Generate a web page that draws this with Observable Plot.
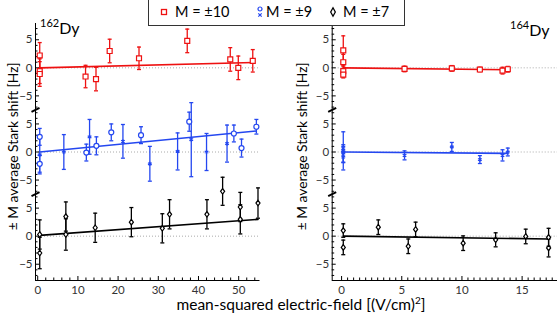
<!DOCTYPE html>
<html><head><meta charset="utf-8">
<script src="https://cdn.jsdelivr.net/npm/d3@7"></script>
<script src="https://cdn.jsdelivr.net/npm/@observablehq/plot@0.6"></script>
<style>
body{margin:0;background:#fff;}
#wrap{position:relative;width:557px;height:316px;overflow:hidden;font-family:Lato,"Open Sans",sans-serif;color:#000;}
#wrap svg{position:absolute;top:0;}
#legend{position:absolute;left:148px;top:-1px;width:255px;height:25px;border:1px solid #333;background:#fff;}
#legend .it{position:absolute;top:3px;font-size:14.5px;line-height:18px;white-space:pre;}
#legend svg{position:absolute;}
.iso{position:absolute;font-size:16px;line-height:16px;white-space:nowrap;}
.iso span{font-size:11px;position:relative;top:-7px;}
#xlabel{position:absolute;left:101px;width:400px;text-align:center;top:296px;font-size:15.5px;line-height:16px;white-space:nowrap;}
</style></head><body><div id="wrap"></div>
<script>
// ---------- data ----------
const seriesNames = ["M = ±10", "M = ±9", "M = ±7"];
const seriesColors = ["#ee1111", "#2447f0", "#000000"];
const bandOffsets = [30, 15, 0];          // vertical band of each series on the broken axis
const yTickValues = [-5, 0, 5, 10, 15, 20, 25, 30, 35];
const yTickLabels = ["−5", "0", "5", "−5", "0", "5", "−5", "0", "5"];
const breakValues = [7.5, 22.5];
const xTicks162 = [0, 10, 20, 30, 40, 50];
const xTicks164 = [0, 5, 10, 15];
const yTitle = "± M average Stark shift [Hz]";
const xTitle = "mean-squared electric-field [(V/cm)²]";

// 162Dy, M = ±10
const dy162_m10_x = [0.5, 0.5, 0.5, 11.9, 14.5, 17.9, 25.2, 37.2, 47.9, 49.9, 53.5];
const dy162_m10_y = [2.2, -0.6, -1.1, -1.55, -2.0, 3.0, 1.7, 4.8, 1.5, 0.0, 1.25];
const dy162_m10_e = [2.3, 2.2, 2.2, 2.0, 2.1, 2.1, 2.0, 2.1, 2.1, 2.1, 2.0];
// 162Dy, M = ±9 (circles)
const dy162_m9c_x = [0.5, 0.5, 12.1, 14.6, 18.3, 25.7, 37.7, 48.8, 50.7, 54.4];
const dy162_m9c_y = [2.7, -2.1, -0.1, 1.1, 3.5, 3.0, 5.4, 3.3, 0.7, 4.5];
const dy162_m9c_e = [1.5, 1.5, 1.5, 1.6, 1.5, 1.5, 1.7, 1.5, 1.6, 1.3];
// 162Dy, M = ±9 (crosses)
const dy162_m9s_x = [0.5, 6.5, 12.9, 21.2, 27.9, 34.8, 38.2, 42.0, 47.1];
const dy162_m9s_y = [-0.5, 0.0, 2.7, 1.9, -2.1, 0.1, 2.2, 0.0, 1.5];
const dy162_m9s_e = [3.4, 3.1, 3.1, 3.0, 3.1, 3.3, 6.6, 3.3, 3.3];
// 162Dy, M = ±7
const dy162_m7_x = [0.5, 0.5, 7.0, 7.0, 14.3, 23.3, 31.0, 32.8, 42.1, 46.0, 50.4, 50.4, 54.8];
const dy162_m7_y = [0.3, -3.0, 3.5, 0.3, 1.5, 2.5, 1.4, 3.9, 3.9, 8.0, 5.2, 3.0, 5.9];
const dy162_m7_e = [2.6, 2.8, 2.6, 2.8, 2.6, 2.6, 2.6, 2.6, 2.6, 2.5, 2.6, 2.6, 2.7];
// 162Dy linear fits (end points)
const dy162_fit_m10_x = [0.5, 53.7], dy162_fit_m10_y = [0.0, 0.95];
const dy162_fit_m9_x = [0.5, 54.4], dy162_fit_m9_y = [0.0, 3.75];
const dy162_fit_m7_x = [0.5, 54.8], dy162_fit_m7_y = [0.15, 3.0];

// 164Dy, M = ±10
const dy164_m10_x = [0.14, 0.14, 0.14, 0.14, 5.23, 9.16, 11.49, 13.37, 13.81];
const dy164_m10_y = [3.1, 1.0, -0.6, -1.2, -0.2, -0.1, -0.3, -0.5, -0.25];
const dy164_m10_e = [2.6, 1.4, 0.9, 0.6, 0.5, 0.5, 0.4, 0.6, 0.5];
// 164Dy, M = ±9 (crosses)
const dy164_m9s_x = [0.14, 0.14, 0.14, 0.14, 5.23, 9.16, 11.49, 13.37, 13.81];
const dy164_m9s_y = [0.2, 0.6, -0.4, -0.9, -0.6, 0.9, -1.35, -0.6, 0.0];
const dy164_m9s_e = [3.4, 0.7, 1.4, 1.0, 0.8, 0.8, 0.7, 1.0, 0.7];
// 164Dy, M = ±7
const dy164_m7_x = [0.14, 0.14, 3.05, 5.54, 6.15, 10.1, 12.8, 15.3, 17.2, 17.2];
const dy164_m7_y = [1.0, -2.0, 1.6, -1.8, 1.2, -1.25, -0.65, -0.05, -0.2, -2.1];
const dy164_m7_e = [1.2, 1.3, 1.3, 1.3, 1.3, 1.3, 1.25, 1.3, 1.6, 1.6];
// 164Dy linear fits (end points)
const dy164_fit_m10_x = [0.14, 13.81], dy164_fit_m10_y = [0.0, -0.35];
const dy164_fit_m9_x = [0.14, 13.81], dy164_fit_m9_y = [0.0, -0.25];
const dy164_fit_m7_x = [0.14, 17.2], dy164_fit_m7_y = [0.0, -0.5];

// ---------- helpers ----------
const H = 316, MT = 23, MB = 36;
const Y_DOMAIN = [-7.9, 37.9];
const capSym = {draw(ctx, size) { const r = Math.sqrt(size / Math.PI); ctx.moveTo(-r, 0); ctx.lineTo(r, 0); }};
const breakSym = {draw(ctx, size) { const r = Math.sqrt(size / Math.PI); ctx.moveTo(-r, r * 0.5); ctx.lineTo(r, -r * 0.5); }};
const diamondSym = {draw(ctx, size) { const r = Math.sqrt(size / Math.PI); ctx.moveTo(0, -r * 1.15); ctx.lineTo(r * 0.85, 0); ctx.lineTo(0, r * 1.15); ctx.lineTo(-r * 0.85, 0); ctx.closePath(); }};

function rows(xs, ys, es, s) {
  return xs.map((x, i) => ({x, y: ys[i] + bandOffsets[s], lo: ys[i] - es[i] + bandOffsets[s], hi: ys[i] + es[i] + bandOffsets[s]}));
}
function fitRows(xs, ys, s) { return xs.map((x, i) => ({x, y: ys[i] + bandOffsets[s]})); }

function seriesMarks(data, s, symbol, r) {
  const c = seriesColors[s];
  return [
    Plot.ruleX(data, {x: "x", y1: "lo", y2: "hi", stroke: c, strokeWidth: 1.3}),
    Plot.dot(data, {x: "x", y: "lo", symbol: capSym, r: 2, stroke: c, fill: "none", strokeWidth: 1.3}),
    Plot.dot(data, {x: "x", y: "hi", symbol: capSym, r: 2, stroke: c, fill: "none", strokeWidth: 1.3}),
    Plot.dot(data, {x: "x", y: "y", symbol, r, stroke: c, fill: symbol === "asterisk" ? "none" : "white", strokeWidth: 1.2})
  ];
}

function panel({width, marginLeft, marginRight, xDomain, xTicks, xMinorStep, groups, fits, titleDx}) {
  const frameW = width - marginLeft - marginRight;
  const frameH = H - MT - MB;
  const yMinor = d3.range(-7, 38, 1).filter(v => !yTickValues.includes(v));
  const xMinor = d3.range(0, xDomain[1], xMinorStep).filter(v => !xTicks.includes(v));
  const marks = [
    Plot.ruleY(bandOffsets, {stroke: "#aaa", strokeDasharray: "1,2", strokeWidth: 1}),
    Plot.ruleX([xDomain[0]], {stroke: "#000", strokeWidth: 1}),
    Plot.ruleY([Y_DOMAIN[0]], {stroke: "#000", strokeWidth: 1}),
    Plot.tickY(yTickValues, {y: d => d, insetRight: frameW - 4, stroke: "#000"}),
    Plot.tickY(yMinor, {y: d => d, insetRight: frameW - 2.5, stroke: "#000"}),
    Plot.tickX(xTicks, {x: d => d, insetTop: frameH - 4, stroke: "#000"}),
    Plot.tickX(xMinor, {x: d => d, insetTop: frameH - 2.5, stroke: "#000"}),
    Plot.axisY(yTickValues, {tickSize: 0, tickPadding: 3, fontSize: 11.5, fill: "#333", label: null,
      tickFormat: d => yTickLabels[yTickValues.indexOf(d)]}),
    Plot.axisX(xTicks, {tickSize: 0, tickPadding: 5, fontSize: 11.5, fill: "#333", label: null}),
    Plot.dot(breakValues, {x: xDomain[0], y: d => d, symbol: breakSym, r: 4, stroke: "#000", strokeWidth: 2, fill: "none"}),
    Plot.text([yTitle], {frameAnchor: "left", textAnchor: "middle", rotate: -90, dx: titleDx, dy: -5.5, fontSize: 13.8, fill: "#000"})
  ];
  for (const f of fits) marks.push(Plot.line(f.data, {x: "x", y: "y", stroke: seriesColors[f.s], strokeWidth: 1.6}));
  for (const g of groups) marks.push(...seriesMarks(g.data, g.s, g.symbol, g.r));
  return Plot.plot({
    width, height: H, marginTop: MT, marginBottom: MB, marginLeft, marginRight,
    style: {fontFamily: "Lato, 'Open Sans', sans-serif", background: "transparent", overflow: "visible"},
    x: {domain: xDomain, label: null}, y: {domain: Y_DOMAIN, label: null},
    marks
  });
}

const left = panel({
  width: 270, marginLeft: 35, marginRight: 10.5, xDomain: [-0.55, 55.3], xTicks: xTicks162, xMinorStep: 2, titleDx: -22,
  fits: [
    {s: 0, data: fitRows(dy162_fit_m10_x, dy162_fit_m10_y, 0)},
    {s: 1, data: fitRows(dy162_fit_m9_x, dy162_fit_m9_y, 1)},
    {s: 2, data: fitRows(dy162_fit_m7_x, dy162_fit_m7_y, 2)}
  ],
  groups: [
    {s: 0, symbol: "square", r: 2.8, data: rows(dy162_m10_x, dy162_m10_y, dy162_m10_e, 0)},
    {s: 1, symbol: "asterisk", r: 2, data: rows(dy162_m9s_x, dy162_m9s_y, dy162_m9s_e, 1)},
    {s: 1, symbol: "circle", r: 2.5, data: rows(dy162_m9c_x, dy162_m9c_y, dy162_m9c_e, 1)},
    {s: 2, symbol: diamondSym, r: 2.4, data: rows(dy162_m7_x, dy162_m7_y, dy162_m7_e, 2)}
  ]
});
left.style.left = "0px";

const right = panel({
  width: 277, marginLeft: 51.7, marginRight: 0, xDomain: [-0.78, 17.94], xTicks: xTicks164, xMinorStep: 0.5, titleDx: -29.7,
  fits: [
    {s: 0, data: fitRows(dy164_fit_m10_x, dy164_fit_m10_y, 0)},
    {s: 1, data: fitRows(dy164_fit_m9_x, dy164_fit_m9_y, 1)},
    {s: 2, data: fitRows(dy164_fit_m7_x, dy164_fit_m7_y, 2)}
  ],
  groups: [
    {s: 0, symbol: "square", r: 2.8, data: rows(dy164_m10_x, dy164_m10_y, dy164_m10_e, 0)},
    {s: 1, symbol: "asterisk", r: 2, data: rows(dy164_m9s_x, dy164_m9s_y, dy164_m9s_e, 1)},
    {s: 2, symbol: diamondSym, r: 2.4, data: rows(dy164_m7_x, dy164_m7_y, dy164_m7_e, 2)}
  ]
});
right.style.left = "280px";

const wrap = document.getElementById("wrap");
wrap.appendChild(left);
wrap.appendChild(right);

// isotope labels
const iso1 = document.createElement("div");
iso1.className = "iso"; iso1.style.left = "40px"; iso1.style.top = "20px";
iso1.innerHTML = "<span>162</span>Dy";
const iso2 = document.createElement("div");
iso2.className = "iso"; iso2.style.left = "510px"; iso2.style.top = "22px";
iso2.innerHTML = "<span>164</span>Dy";
wrap.appendChild(iso1); wrap.appendChild(iso2);

// x label
const xl = document.createElement("div");
xl.id = "xlabel";
xl.innerHTML = xTitle.replace("²", "<sup style='font-size:10px;vertical-align:6px;line-height:0'>2</sup>");
wrap.appendChild(xl);

// legend
const legend = document.createElement("div");
legend.id = "legend";
const markerSvgs = [
  `<svg width="10" height="10" style="left:10px;top:7px"><rect x="2.5" y="2.5" width="5" height="5" fill="white" stroke="${seriesColors[0]}" stroke-width="1.3"/></svg>`,
  `<svg width="10" height="14" style="left:106px;top:5px"><circle cx="5" cy="4" r="2" fill="white" stroke="${seriesColors[1]}" stroke-width="1.2"/><path d="M3.3,8.3L6.7,11.7M6.7,8.3L3.3,11.7" stroke="${seriesColors[1]}" stroke-width="1.2"/></svg>`,
  `<svg width="10" height="12" style="left:179px;top:6px"><path d="M5,1.8L7.3,6L5,10.2L2.7,6Z" fill="white" stroke="${seriesColors[2]}" stroke-width="1.3"/></svg>`
];
const textLefts = [26, 117, 194];
seriesNames.forEach((n, i) => {
  legend.insertAdjacentHTML("beforeend", markerSvgs[i]);
  const t = document.createElement("div");
  t.className = "it"; t.style.left = textLefts[i] + "px"; t.textContent = n;
  legend.appendChild(t);
});
wrap.appendChild(legend);
</script></body></html>
